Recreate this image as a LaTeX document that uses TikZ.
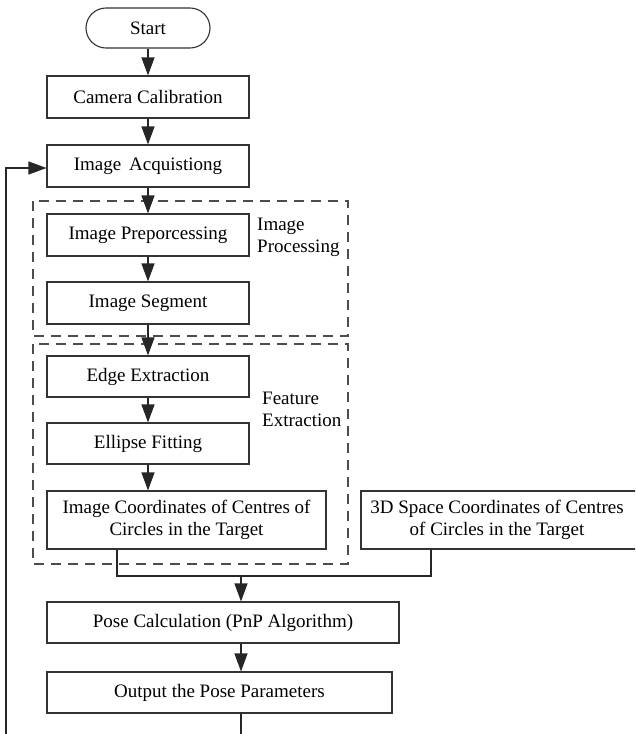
\documentclass[tikz,border=0pt]{standalone}
\usepackage{fontspec}
\setmainfont{Liberation Serif}
\usetikzlibrary{arrows.meta}
\begin{document}
\begin{tikzpicture}[x=1pt,y=-1pt,
  txt/.style={font=\fontsize{19}{22}\selectfont, text=black},
  procbox/.style={draw=black!80, line width=1.1pt, txt, inner sep=0pt, align=center},
  arr/.style={draw=black!85, line width=1.1pt, -{Triangle[length=18pt,width=13pt]}},
  ln/.style={draw=black!85, line width=1.1pt},
  grp/.style={draw=black!70, line width=1.1pt, dash pattern=on 10pt off 7pt}]
\useasboundingbox (0,0) rectangle (635,734);
\clip (0,0) rectangle (635,734);

% group frames
\draw[grp] (33,201) rectangle (348,336);
\draw[grp] (33,344) rectangle (348,564);

% nodes
\node[procbox, rounded corners=20pt, minimum width=124pt, minimum height=40pt] (start) at (148,28) {Start};
\node[procbox, minimum width=202pt, minimum height=42pt] (calib) at (148,97) {Camera Calibration};
\node[procbox, minimum width=202pt, minimum height=42pt] (acq) at (148,166) {Image\, Acquistiong};
\node[procbox, minimum width=202pt, minimum height=42pt] (pre) at (148,235) {Image Preporcessing};
\node[procbox, minimum width=202pt, minimum height=42pt] (seg) at (148,303) {Image Segment};
\node[procbox, minimum width=202pt, minimum height=41pt] (edge) at (148,376.5) {Edge Extraction};
\node[procbox, minimum width=202pt, minimum height=41pt] (fit) at (148,443.5) {Ellipse Fitting};
\node[procbox, minimum width=279pt, minimum height=58pt] (imgc) at (186.5,520) {Image Coordinates of Centres of\\Circles in the Target};
\node[procbox, minimum width=280pt, minimum height=58pt] (spc) at (501,520) {};
\node[txt, align=center] (spct) at (497,520) {3D Space Coordinates of Centres\\of Circles in the Target};
\node[procbox, minimum width=352pt, minimum height=41pt] (pose) at (223,622.5) {Pose Calculation (PnP Algorithm)};
\node[procbox, minimum width=345pt, minimum height=41pt] (out) at (219.5,692.5) {Output the Pose Parameters};

% group labels
\node[txt, align=left, anchor=north west, inner sep=0pt] (lblproc) at (257,218) {Image\\Processing};
\node[txt, align=left, anchor=north west, inner sep=0pt] (lblfeat) at (262,392) {Feature\\Extraction};

% connectors
\draw[arr] (start) -- (calib);
\draw[arr] (calib) -- (acq);
\draw[arr] (acq) -- (pre);
\draw[arr] (pre) -- (seg);
\draw[arr] (seg) -- (edge);
\draw[arr] (edge) -- (fit);
\draw[arr] (fit) -- (fit |- imgc.north);

\coordinate (jl) at (117,576);
\coordinate (jr) at (431,576);
\coordinate (jm) at (241,576);
\draw[ln] (imgc.south -| jl) -- (jl) -- (jr) -- (spc.south -| jr);
\draw[arr] (jm) -- (jm |- pose.north);
\draw[arr] (pose.south -| jm) -- (out.north -| jm);

\coordinate (bend) at (241,740);
\coordinate (fb) at (6,740);
\draw[ln] (out.south -| bend) -- (bend);
\draw[arr] (fb) -- (6,168) -- (acq.west |- 0,168);
\end{tikzpicture}
\end{document}
